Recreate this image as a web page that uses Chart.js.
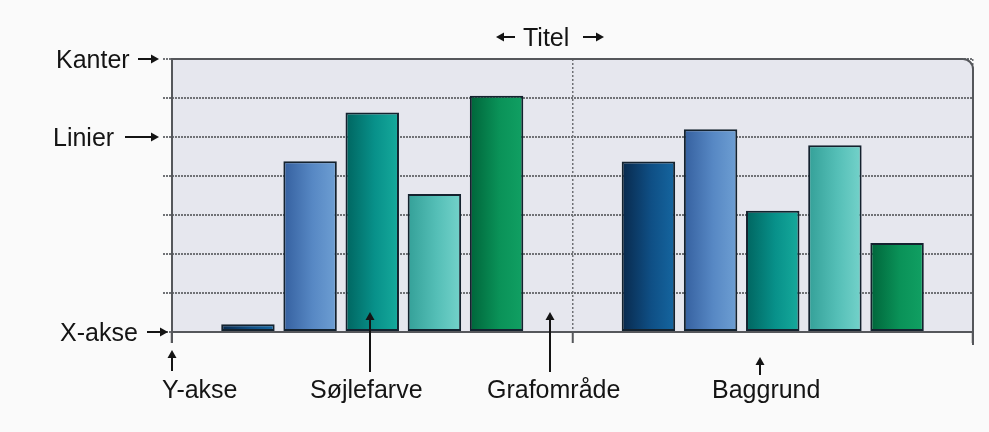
<!DOCTYPE html>
<html>
<head>
<meta charset="utf-8">
<script src="https://cdn.jsdelivr.net/npm/chart.js@4"></script>
<style>
  html, body { margin: 0; padding: 0; background: #fafafa; }
  #wrap { width: 989px; height: 432px; position: relative; }
</style>
</head>
<body>
<div id="wrap"><canvas id="c" width="989" height="432"></canvas></div>
<script>
// ---- data ----
const categories = ['1', '2'];
const series1 = [0.2, 4.37];
const series2 = [4.38, 5.2];
const series3 = [5.63, 3.11];
const series4 = [3.54, 4.79];
const series5 = [6.06, 2.28];
const yTicks = [0, 1, 2, 3, 4, 5, 6, 7];
const titleText = 'Titel';
const leftLabels = ['Kanter', 'Linier', 'X-akse'];
const bottomLabels = ['Y-akse', 'Søjlefarve', 'Grafområde', 'Baggrund'];

// ---- styling ----
const CAT_PCT = 0.776, BAR_PCT = 0.86;
const gradStops = [
  ['#08294c', '#0f4f85', '#1566a0'],
  ['#35609f', '#5788c4', '#6e9fd3'],
  ['#006560', '#08918a', '#16aa9c'],
  ['#34a098', '#55bfb7', '#74d2ca'],
  ['#00653a', '#0a9258', '#11a063']
];
const allSeries = [series1, series2, series3, series4, series5];
const N = allSeries.length;

function barGrad(c) {
  const stops = gradStops[c.datasetIndex];
  const chart = c.chart;
  const xs = chart.scales && chart.scales.x;
  if (!xs || c.dataIndex === undefined || !isFinite(xs.width)) return stops[1];
  const catW = xs.width / categories.length;
  const slot = catW * CAT_PCT / N;
  const cx = xs.getPixelForValue(c.dataIndex) + (c.datasetIndex - (N - 1) / 2) * slot;
  const half = slot * BAR_PCT / 2;
  const g = chart.ctx.createLinearGradient(cx - half, 0, cx + half, 0);
  g.addColorStop(0, stops[0]);
  g.addColorStop(0.55, stops[1]);
  g.addColorStop(1, stops[2]);
  return g;
}

const FONT = '25px "Liberation Sans", Arial, sans-serif';
const TXT = '#141414';

function arrowH(ctx, x1, x2, y) {
  const dir = x2 > x1 ? 1 : -1;
  ctx.beginPath();
  ctx.moveTo(x1, y);
  ctx.lineTo(x2 - dir * 6, y);
  ctx.lineWidth = 2;
  ctx.strokeStyle = TXT;
  ctx.stroke();
  ctx.beginPath();
  ctx.moveTo(x2, y);
  ctx.lineTo(x2 - dir * 8, y - 4.5);
  ctx.lineTo(x2 - dir * 8, y + 4.5);
  ctx.closePath();
  ctx.fillStyle = TXT;
  ctx.fill();
}
function arrowUp(ctx, x, yTop, yBot) {
  ctx.beginPath();
  ctx.moveTo(x, yBot);
  ctx.lineTo(x, yTop + 6);
  ctx.lineWidth = 2;
  ctx.strokeStyle = TXT;
  ctx.stroke();
  ctx.beginPath();
  ctx.moveTo(x, yTop);
  ctx.lineTo(x - 4.5, yTop + 8);
  ctx.lineTo(x + 4.5, yTop + 8);
  ctx.closePath();
  ctx.fillStyle = TXT;
  ctx.fill();
}

const framePlugin = {
  id: 'frame',
  beforeDraw(chart) {
    const {ctx, chartArea: a} = chart;
    ctx.save();
    ctx.fillStyle = '#e6e7ee';
    ctx.beginPath();
    ctx.moveTo(a.left, a.bottom);
    ctx.lineTo(a.left, a.top);
    ctx.lineTo(a.right - 10, a.top);
    ctx.arcTo(a.right, a.top, a.right, a.top + 10, 10);
    ctx.lineTo(a.right, a.bottom);
    ctx.closePath();
    ctx.fill();
    ctx.restore();
  },
  afterDatasetsDraw(chart) {
    const {ctx, chartArea: a} = chart;
    ctx.save();
    ctx.strokeStyle = '#55575b';
    ctx.lineWidth = 2;
    ctx.beginPath();
    ctx.moveTo(a.left, a.bottom + 11);
    ctx.lineTo(a.left, a.top);
    ctx.lineTo(a.right - 10, a.top);
    ctx.arcTo(a.right, a.top, a.right, a.top + 10, 10);
    ctx.lineTo(a.right, a.bottom + 13);
    ctx.stroke();
    ctx.beginPath();
    ctx.moveTo(a.left, a.bottom);
    ctx.lineTo(a.right, a.bottom);
    ctx.stroke();
    ctx.restore();
  },
  afterDraw(chart) {
    const {ctx, chartArea: a} = chart;
    const ys = chart.scales.y;
    ctx.save();
    ctx.font = FONT;
    ctx.fillStyle = TXT;
    ctx.textBaseline = 'alphabetic';
    ctx.textAlign = 'left';
    const yK = ys.getPixelForValue(7), yL = ys.getPixelForValue(5), yX = ys.getPixelForValue(0);
    ctx.fillText(leftLabels[0], 56, yK + 9);
    arrowH(ctx, 138, 159, yK);
    ctx.fillText(leftLabels[1], 53, yL + 9);
    arrowH(ctx, 125, 159, yL);
    ctx.fillText(leftLabels[2], 60, yX + 9);
    arrowH(ctx, 147, 168, yX);
    ctx.fillText(titleText, 523, 46);
    arrowH(ctx, 515, 496, 37);
    arrowH(ctx, 583, 604, 37);
    const base = 398;
    ctx.fillText(bottomLabels[0], 162, base);
    ctx.fillText(bottomLabels[1], 310, base);
    ctx.fillText(bottomLabels[2], 487, base);
    ctx.fillText(bottomLabels[3], 712, base);
    arrowUp(ctx, a.left, 350, 371);
    arrowUp(ctx, 370, 312, 372);
    arrowUp(ctx, 550, 312, 372);
    arrowUp(ctx, 760, 357, 375);
    ctx.restore();
  }
};

new Chart(document.getElementById('c'), {
  type: 'bar',
  data: {
    labels: categories,
    datasets: allSeries.map((s, i) => ({
      label: 'Serie ' + (i + 1),
      data: s,
      backgroundColor: barGrad,
      borderColor: '#14222e',
      borderWidth: 2,
      borderSkipped: false,
      categoryPercentage: CAT_PCT,
      barPercentage: BAR_PCT
    }))
  },
  options: {
    responsive: false,
    animation: false,
    devicePixelRatio: 1,
    layout: { padding: { left: 163, right: 16, top: 59, bottom: 89 } },
    plugins: { legend: { display: false }, title: { display: false }, tooltip: { enabled: false } },
    scales: {
      x: {
        ticks: { display: false },
        grid: {
          offset: true, color: '#6e7074', lineWidth: 1.5,
          drawTicks: true, tickLength: 11, tickColor: '#55575b', tickWidth: 2
        },
        border: { display: false, dash: [2, 2] }
      },
      y: {
        min: 0, max: 7,
        afterBuildTicks(scale) { scale.ticks = yTicks.map(v => ({ value: v })); },
        ticks: { display: false },
        grid: {
          color: '#707276', lineWidth: 2, drawTicks: true, tickLength: 9,
          tickColor: '#707276', tickWidth: 2, tickBorderDash: [2, 1]
        },
        border: { display: false, dash: [2, 1] }
      }
    }
  },
  plugins: [framePlugin]
});
</script>
</body>
</html>
